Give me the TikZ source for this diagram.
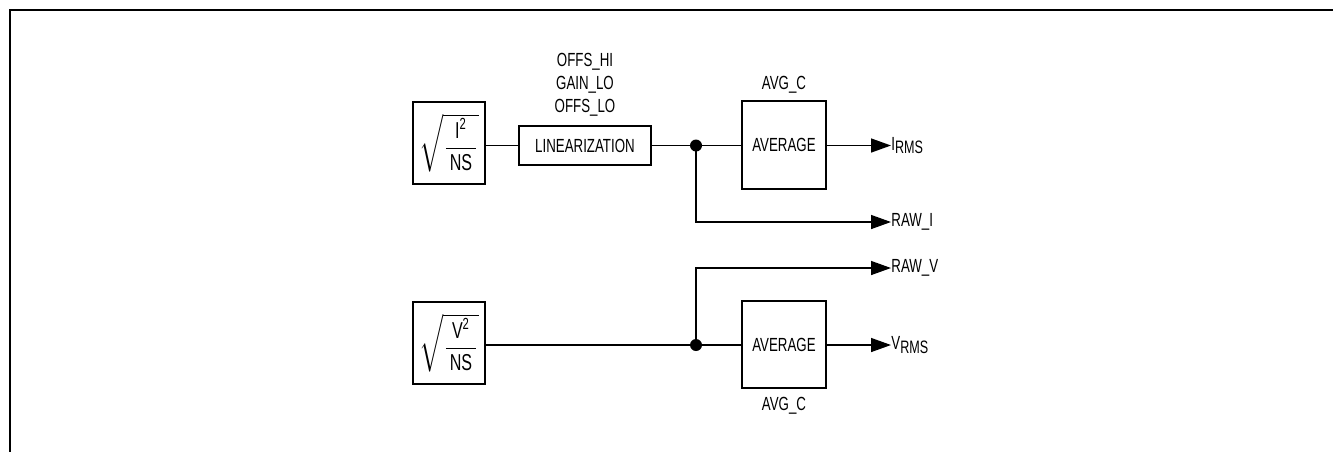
\documentclass[tikz,border=0pt]{standalone}
\usepackage{amsmath}
\usepackage{fontspec}
\setmainfont{Liberation Sans}[FakeStretch=0.70]
\usetikzlibrary{arrows.meta}
\newcommand{\lowtxt}[1]{\raisebox{-0.35ex}{\small #1}}
\tikzset{
  blk/.style={draw, line width=0.8pt, inner sep=0pt},
  rootblk/.style={blk, minimum width=36pt, minimum height=41pt, font=\fontsize{11.5}{14}\selectfont},
  wire/.style={line width=0.7pt},
  sig/.style={wire, -{Triangle[length=10pt,width=7pt]}},
  outlbl/.style={anchor=west, inner sep=0pt, xshift=4.5pt},
}
\begin{document}
\begin{tikzpicture}[x=0.5pt, y=-0.5pt, font=\fontsize{9.5}{11.5}\selectfont]
    \useasboundingbox (0,0) rectangle (1333,452);
    % Cornice
    \draw[line width=1pt] (1333,10) -- (10,10) -- (10,452);

    % Ramo della corrente
    \node[rootblk] (isq) at (449,143)
        {$\sqrt{\dfrac{\,\text{I\textsuperscript{2}}\,}{\,\text{NS}\,}}$};
    \node[blk, minimum width=66pt, minimum height=19.5pt] (lin) at (585,145.5) {LINEARIZATION};
    \node[align=center] (linpar) at (585,85) {OFFS\_HI\\GAIN\_LO\\OFFS\_LO};
    \node[blk, minimum width=42pt, minimum height=44pt] (avgi) at (784,145) {AVERAGE};
    \node (avgilbl) at (784,85) {AVG\_C};
    \coordinate (doti) at (696,145.5);
    \node[outlbl] (irms) at (882,145.5) {I\lowtxt{RMS}};
    \node[outlbl] (rawi) at (882,222) {RAW\_I};

    \draw[wire] (isq.east |- lin.west) -- (lin.west);
    \draw[wire] (lin.east) -- (doti) -- (avgi.west |- doti);
    \draw[sig] (avgi.east |- irms.west) -- (irms.west);
    \draw[sig] (doti) |- (rawi.west);
    \fill (doti) circle (3pt);

    % Ramo della tensione
    \node[rootblk] (vsq) at (449,343)
        {$\sqrt{\dfrac{\,\text{V\textsuperscript{2}}\,}{\,\text{NS}\,}}$};
    \node[blk, minimum width=42pt, minimum height=43.5pt] (avgv) at (784,344.5) {AVERAGE};
    \node (avgvlbl) at (784,406) {AVG\_C};
    \coordinate (dotv) at (696,345);
    \node[outlbl] (vrms) at (882,345) {V\lowtxt{RMS}};
    \node[outlbl] (rawv) at (882,268) {RAW\_V};

    \draw[wire] (vsq.east |- dotv) -- (dotv) -- (avgv.west |- dotv);
    \draw[sig] (avgv.east |- vrms.west) -- (vrms.west);
    \draw[sig] (dotv) |- (rawv.west);
    \fill (dotv) circle (3pt);
\end{tikzpicture}
\end{document}
